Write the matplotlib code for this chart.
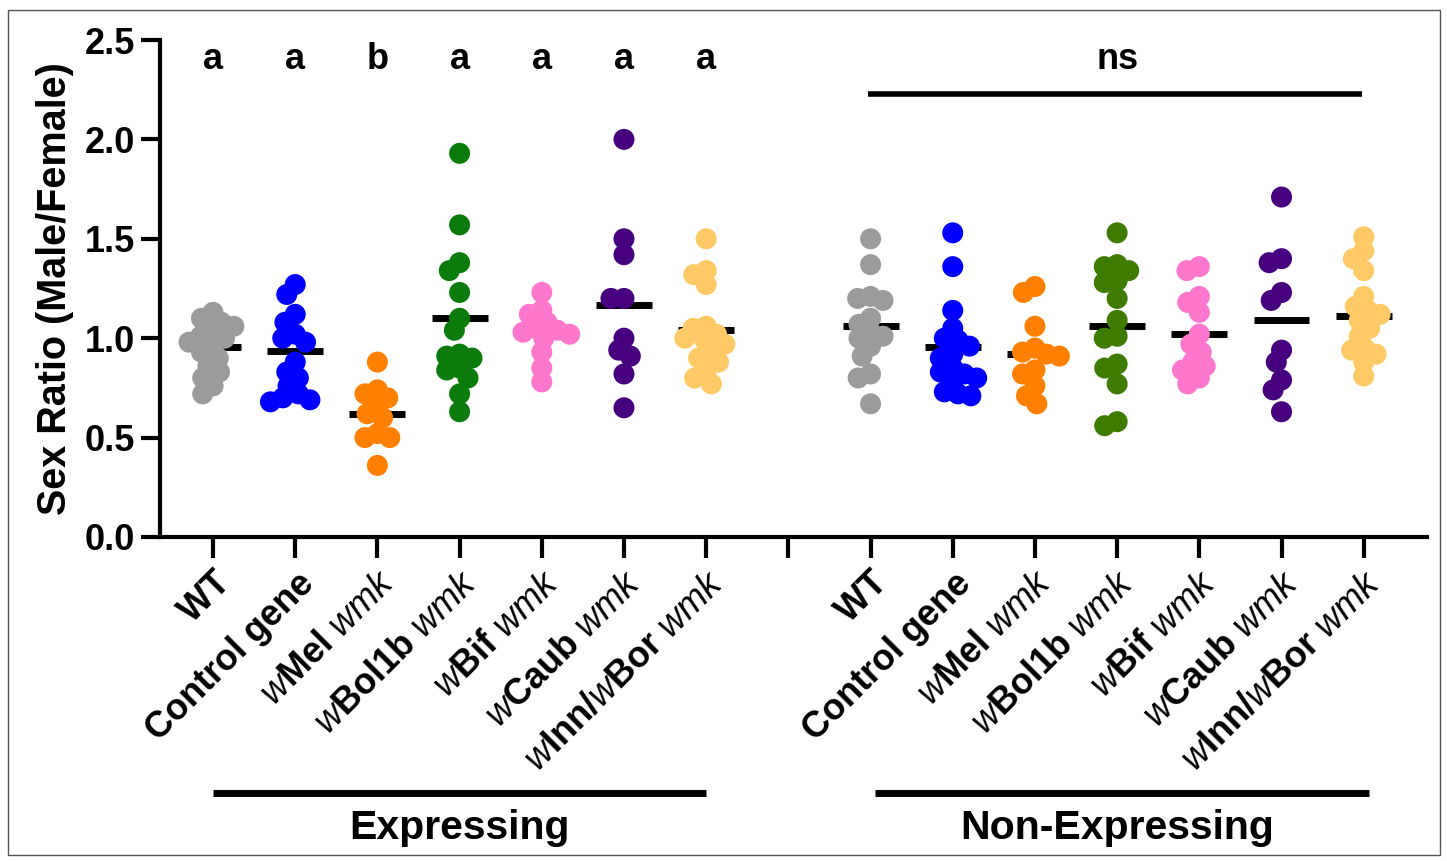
import numpy as np
import matplotlib
matplotlib.use("Agg")
import matplotlib.pyplot as plt
from matplotlib.patches import Rectangle

plt.rcParams['font.family'] = ['Liberation Sans', 'DejaVu Sans']
plt.rcParams['mathtext.fontset'] = 'custom'
plt.rcParams['mathtext.rm'] = 'Liberation Sans'
plt.rcParams['mathtext.it'] = 'Liberation Sans:italic'
plt.rcParams['mathtext.bf'] = 'Liberation Sans:bold'

# ---------------- data ----------------
tick_labels = [
    r"$\mathbf{WT}$",
    r"$\mathbf{Control\ gene}$",
    r"$\mathit{w}\mathbf{Mel}\ \mathit{wmk}$",
    r"$\mathit{w}\mathbf{Bol1b}\ \mathit{wmk}$",
    r"$\mathit{w}\mathbf{Bif}\ \mathit{wmk}$",
    r"$\mathit{w}\mathbf{Caub}\ \mathit{wmk}$",
    r"$\mathit{w}\mathbf{Inn/}\mathit{w}\mathbf{Bor}\ \mathit{wmk}$",
]
colors_exp = ["#9b9b9b", "#0000ff", "#ff8000", "#0b7c0b", "#ff77cc", "#46007f", "#ffca66"]
colors_non = ["#9b9b9b", "#0000ff", "#ff8000", "#3e7c00", "#ff77cc", "#46007f", "#ffca66"]

exp_wt = [1.13, 1.10, 1.08, 1.06, 1.03, 1.01, 1.00, 0.98, 0.96, 0.93, 0.90, 0.86, 0.83, 0.80, 0.76, 0.72]
exp_ctrl = [1.27, 1.22, 1.12, 1.08, 1.02, 1.00, 0.98, 0.88, 0.83, 0.80, 0.76, 0.72, 0.70, 0.69, 0.68]
exp_mel = [0.88, 0.74, 0.72, 0.70, 0.66, 0.62, 0.60, 0.52, 0.50, 0.50, 0.36]
exp_bol = [1.93, 1.57, 1.38, 1.34, 1.23, 1.10, 1.04, 0.92, 0.91, 0.90, 0.85, 0.84, 0.80, 0.72, 0.63]
exp_bif = [1.23, 1.14, 1.12, 1.08, 1.05, 1.04, 1.03, 1.02, 1.00, 0.93, 0.85, 0.78]
exp_caub = [2.00, 1.50, 1.42, 1.20, 1.20, 1.00, 0.94, 0.91, 0.82, 0.65]
exp_inn = [1.50, 1.34, 1.32, 1.27, 1.06, 1.05, 1.02, 1.00, 0.99, 0.97, 0.93, 0.90, 0.88, 0.83, 0.80, 0.77]

non_wt = [1.50, 1.37, 1.21, 1.20, 1.19, 1.10, 1.07, 1.03, 1.01, 1.00, 0.96, 0.91, 0.82, 0.80, 0.67]
non_ctrl = [1.53, 1.36, 1.14, 1.05, 1.00, 0.99, 0.96, 0.92, 0.90, 0.85, 0.83, 0.82, 0.80, 0.78, 0.73, 0.71, 0.72]
non_mel = [1.26, 1.23, 1.06, 0.95, 0.93, 0.92, 0.91, 0.84, 0.82, 0.76, 0.71, 0.67]
non_bol = [1.53, 1.37, 1.36, 1.34, 1.29, 1.28, 1.20, 1.09, 1.01, 1.00, 0.87, 0.85, 0.77, 0.58, 0.56]
non_bif = [1.36, 1.34, 1.21, 1.18, 1.13, 1.02, 0.97, 0.93, 0.88, 0.86, 0.84, 0.80, 0.77]
non_caub = [1.71, 1.40, 1.38, 1.23, 1.19, 0.94, 0.88, 0.79, 0.74, 0.63]
non_inn = [1.51, 1.44, 1.40, 1.34, 1.21, 1.16, 1.14, 1.12, 1.09, 1.05, 1.01, 0.95, 0.94, 0.92, 0.88, 0.81]

means_exp = [0.955, 0.935, 0.62, 1.10, 1.03, 1.165, 1.04]
means_non = [1.06, 0.955, 0.92, 1.06, 1.02, 1.09, 1.11]

sig_letters = ["a", "a", "b", "a", "a", "a", "a"]
ns_label = "ns"
yticks = [0.0, 0.5, 1.0, 1.5, 2.0, 2.5]

exp_data = [exp_wt, exp_ctrl, exp_mel, exp_bol, exp_bif, exp_caub, exp_inn]
non_data = [non_wt, non_ctrl, non_mel, non_bol, non_bif, non_caub, non_inn]

# ---------------- figure ----------------
W, H, DPI = 1447, 861, 100
fig = plt.figure(figsize=(W / DPI, H / DPI), dpi=DPI)
ax = fig.add_axes([160 / W, 1 - 537 / H, (1427 - 160) / W, (537 - 40) / H])
xmin, xmax = -0.645, 14.77
ax.set_xlim(xmin, xmax)
ax.set_ylim(0, 2.5)

ax_w_px = 1427 - 160
ax_h_px = 537 - 40
px_per_x = ax_w_px / (xmax - xmin)
px_per_y = ax_h_px / 2.5

marker_d = 21.0  # px
spacing = 0.62 * marker_d


def swarm_offsets(vals):
    ys = np.asarray(vals) * px_per_y
    order = np.argsort(-ys)
    placed = []
    offs = np.zeros(len(ys))
    for i in order:
        y = ys[i]
        cands = [0.0]
        for (px, py) in placed:
            dy = y - py
            if abs(dy) < spacing:
                dx = np.sqrt(spacing ** 2 - dy ** 2)
                cands += [px + dx, px - dx]
        cands = sorted(cands, key=lambda c: (abs(c), c))
        for c in cands:
            ok = all((c - px) ** 2 + (y - py) ** 2 >= spacing ** 2 - 1e-6 for (px, py) in placed)
            if ok:
                offs[i] = c
                placed.append((c, y))
                break
    return offs / px_per_x


positions_exp = list(range(7))
positions_non = list(range(8, 15))
all_pos = positions_exp + [7] + positions_non

ms = marker_d * 72 / DPI
for data, poss, cols, means in [(exp_data, positions_exp, colors_exp, means_exp),
                                (non_data, positions_non, colors_non, means_non)]:
    for vals, p, c, m in zip(data, poss, cols, means):
        offs = swarm_offsets(vals)
        ax.hlines(m, p - 0.34, p + 0.34, color="black", lw=5, zorder=2)
        ax.scatter(p + offs, vals, s=ms ** 2, color=c, edgecolors="none", zorder=3)

# axes style
for s in ["top", "right"]:
    ax.spines[s].set_visible(False)
ax.spines["left"].set_linewidth(3)
ax.spines["bottom"].set_linewidth(3)
ax.spines["left"].set_bounds(0, 2.5)
ax.set_yticks(yticks)
ax.set_yticklabels([f"{v:.1f}" for v in yticks], fontsize=26, fontweight="bold")
ax.tick_params(axis="y", length=14, width=3, pad=4)
ax.set_xticks(all_pos)
ax.set_xticklabels(tick_labels + [""] + tick_labels, fontsize=26, rotation=45,
                   ha="right", rotation_mode="anchor")
ax.tick_params(axis="x", length=15, width=3, pad=5)
ax.set_ylabel("Sex Ratio (Male/Female)", fontsize=28.5, fontweight="bold", labelpad=8)

# significance
for p, l in zip(positions_exp, sig_letters):
    ax.text(p, 2.40, l, ha="center", va="center", fontsize=26, fontweight="bold")
ax.text(np.mean(positions_non), 2.40, ns_label, ha="center", va="center", fontsize=26, fontweight="bold")
ax.plot([positions_non[0] - 0.03, positions_non[-1] - 0.02], [2.23, 2.23], color="black", lw=4,
        solid_capstyle="butt", clip_on=False)

# group brackets below
trans = ax.get_xaxis_transform()
yb = (537 - 793) / ax_h_px
ax.plot([positions_exp[0], positions_exp[-1]], [yb, yb], color="black", lw=5,
        transform=trans, clip_on=False, solid_capstyle="butt")
ax.plot([positions_non[0] + 0.06, positions_non[-1] + 0.06], [yb, yb], color="black", lw=5,
        transform=trans, clip_on=False, solid_capstyle="butt")
yt = (537 - 828) / ax_h_px
ax.text(np.mean(positions_exp), yt, "Expressing", transform=trans, ha="center", va="center",
        fontsize=29.5, fontweight="bold")
ax.text(np.mean(positions_non), yt, "Non-Expressing", transform=trans, ha="center", va="center",
        fontsize=29.5, fontweight="bold")

# outer frame
fig.patches.append(Rectangle((8 / W, 6 / H), (1440 - 8) / W, (853 - 8) / H, transform=fig.transFigure,
                             fill=False, edgecolor="#555555", lw=1))

fig.savefig("out.png", dpi=DPI)
